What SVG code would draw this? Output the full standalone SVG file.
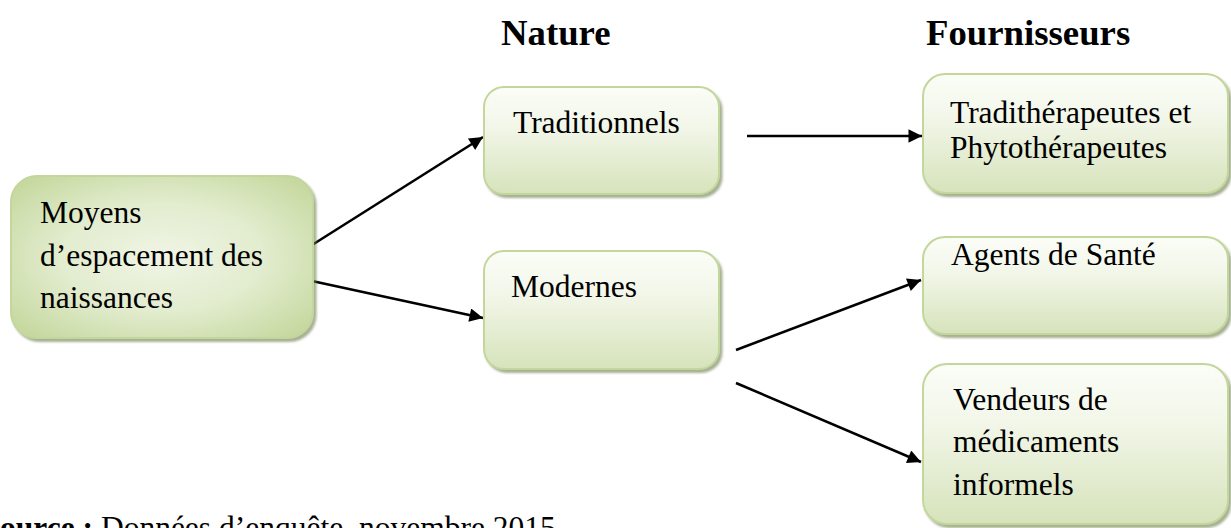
<svg xmlns="http://www.w3.org/2000/svg" width="1231" height="528" viewBox="0 0 1231 528">
<style>
  .box { stroke: #c3d69b; stroke-width: 2; fill: url(#gv); filter: url(#sh); }
  .txt { font-family: "Liberation Serif", "Times New Roman", serif; font-size: 31.5px; fill: #000; }
  .hdr { font-family: "Liberation Serif", "Times New Roman", serif; font-size: 36.75px; font-weight: bold; fill: #000; }
  .con { stroke: #000; stroke-width: 2.6; fill: none; marker-end: url(#ah); }
</style>
<defs>
  <linearGradient id="gv" x1="0" y1="0" x2="0" y2="1">
    <stop offset="0" stop-color="#fbfdf7"/>
    <stop offset="0.35" stop-color="#f3f7ea"/>
    <stop offset="1" stop-color="#d6e3bb"/>
  </linearGradient>
  <radialGradient id="gr" cx="0.5" cy="0.5" r="0.75">
    <stop offset="0" stop-color="#f0f5e5"/>
    <stop offset="0.45" stop-color="#e2ecce"/>
    <stop offset="1" stop-color="#bdd290"/>
  </radialGradient>
  <filter id="sh" x="-10%" y="-10%" width="125%" height="130%">
    <feDropShadow dx="2.5" dy="3" stdDeviation="1.2" flood-color="#6d7d4b" flood-opacity="0.6"/>
  </filter>
  <marker id="ah" viewBox="0 0 10 10" refX="10" refY="5" markerWidth="6.5" markerHeight="5.2" markerUnits="strokeWidth" orient="auto">
    <path d="M0,0 L10,5 L0,10 z" fill="#000"/>
  </marker>
</defs>

<text class="hdr" x="501" y="45">Nature</text>
<text class="hdr" x="926" y="45">Fournisseurs</text>

<g id="connectors">
  <line class="con" x1="312" y1="245" x2="483" y2="137"/>
  <line class="con" x1="312" y1="281" x2="483" y2="318"/>
  <line class="con" x1="747" y1="136" x2="922" y2="136"/>
  <line class="con" x1="736" y1="350" x2="921" y2="280"/>
  <line class="con" x1="736" y1="383" x2="921" y2="462"/>
</g>

<g id="n-moyens">
  <rect class="box" x="11" y="176" width="302" height="162" rx="26" style="fill:url(#gr)"/>
  <text class="txt" x="40" y="223">Moyens</text>
  <text class="txt" x="40" y="266">d’espacement des</text>
  <text class="txt" x="40" y="308">naissances</text>
</g>

<g id="n-traditionnels">
  <rect class="box" x="484" y="87" width="235" height="107" rx="20"/>
  <text class="txt" x="513" y="133">Traditionnels</text>
</g>

<g id="n-modernes">
  <rect class="box" x="484" y="251" width="235" height="118" rx="20"/>
  <text class="txt" x="511" y="297">Modernes</text>
</g>

<g id="n-tradi">
  <rect class="box" x="923" y="74" width="305" height="119" rx="22"/>
  <text class="txt" x="950" y="123">Tradithérapeutes et</text>
  <text class="txt" x="950" y="158">Phytothérapeutes</text>
</g>

<g id="n-agents">
  <rect class="box" x="923" y="237" width="305" height="97" rx="22"/>
  <text class="txt" x="951" y="265">Agents de Santé</text>
</g>

<g id="n-vendeurs">
  <rect class="box" x="923" y="364" width="305" height="160" rx="24"/>
  <text class="txt" x="953" y="410">Vendeurs de</text>
  <text class="txt" x="953" y="452">médicaments</text>
  <text class="txt" x="953" y="495">informels</text>
</g>

<text class="txt" x="0" y="538"><tspan font-weight="bold">ource :</tspan> Données d’enquête, novembre 2015</text>
</svg>
